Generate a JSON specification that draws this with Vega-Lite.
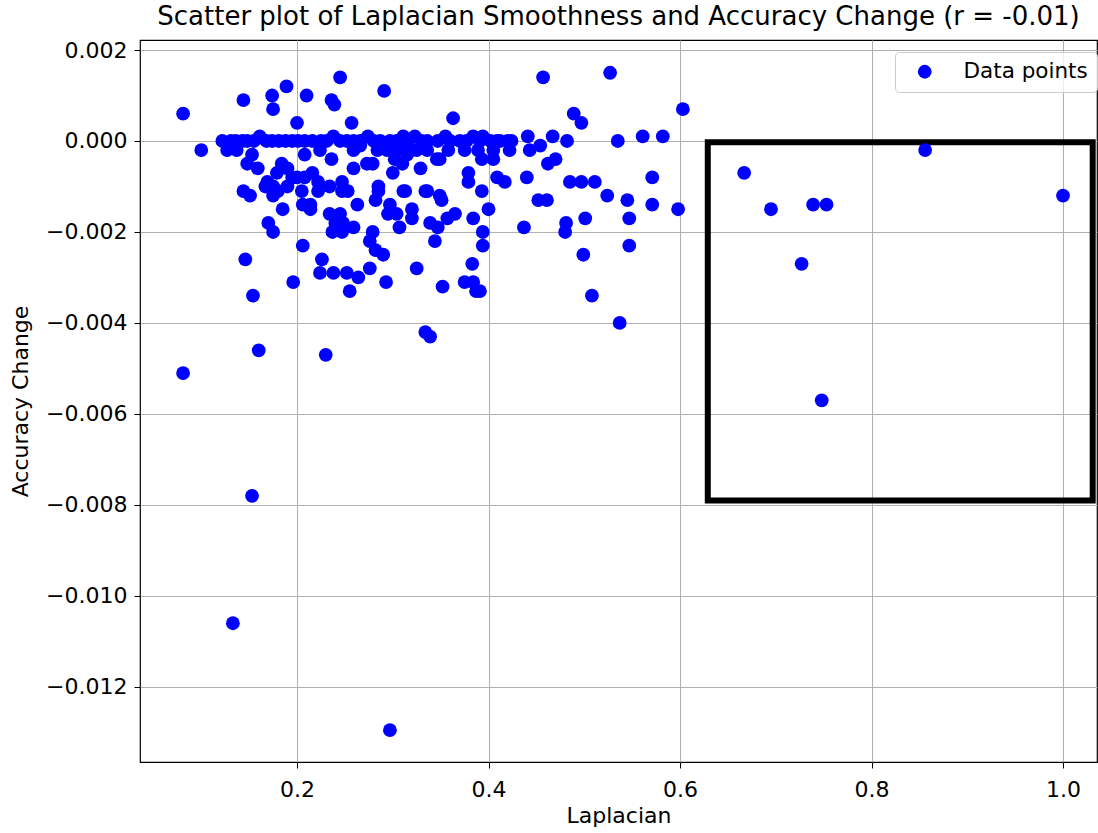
{
  "$schema": "https://vega.github.io/schema/vega-lite/v6.json",
  "autosize": "none",
  "width": 957,
  "height": 722,
  "padding": {"left": 140, "top": 40, "right": 1, "bottom": 71},
  "background": "white",
  "title": {"text": "Scatter plot of Laplacian Smoothness and Accuracy Change (r = -0.01)", "font": "DejaVu Sans", "fontSize": 26, "fontWeight": "normal", "color": "black", "offset": 9},
  "config": {
    "view": {"stroke": "black", "strokeWidth": 1.2},
    "font": "DejaVu Sans",
    "axis": {"domain": false, "gridColor": "#b0b0b0", "gridWidth": 1, "tickColor": "black", "tickSize": 6, "labelFont": "DejaVu Sans", "labelFontSize": 22, "labelColor": "black", "titleFont": "DejaVu Sans", "titleFontSize": 22, "titleFontWeight": "normal", "titleColor": "black"}
  },
  "layer": [
    {
      "data": {"values": [{"x1": 0.629, "x2": 1.031, "y1": -0.00003, "y2": -0.0079}]},
      "mark": {"type": "rect", "filled": false, "stroke": "black", "strokeWidth": 6},
      "encoding": {
        "x": {"field": "x1", "type": "quantitative", "scale": {"domain": [0.036, 1.0355], "nice": false, "zero": false}},
        "x2": {"field": "x2"},
        "y": {"field": "y1", "type": "quantitative", "scale": {"domain": [-0.01365, 0.00222], "nice": false, "zero": false}},
        "y2": {"field": "y2"}
      }
    },
    {
      "data": {"values": [
        {"laplacian": 0.081, "acc_change": 0.0006},
        {"laplacian": 0.100, "acc_change": -0.0002},
        {"laplacian": 0.081, "acc_change": -0.0051},
        {"laplacian": 0.144, "acc_change": 0.0009},
        {"laplacian": 0.146, "acc_change": -0.0026},
        {"laplacian": 0.154, "acc_change": -0.0034},
        {"laplacian": 0.160, "acc_change": -0.0046},
        {"laplacian": 0.153, "acc_change": -0.0078},
        {"laplacian": 0.133, "acc_change": -0.0106},
        {"laplacian": 0.297, "acc_change": -0.01295},
        {"laplacian": 0.230, "acc_change": -0.0047},
        {"laplacian": 0.174, "acc_change": 0.0010},
        {"laplacian": 0.175, "acc_change": 0.0007},
        {"laplacian": 0.189, "acc_change": 0.0012},
        {"laplacian": 0.210, "acc_change": 0.0010},
        {"laplacian": 0.245, "acc_change": 0.0014},
        {"laplacian": 0.236, "acc_change": 0.0009},
        {"laplacian": 0.239, "acc_change": 0.0008},
        {"laplacian": 0.291, "acc_change": 0.0011},
        {"laplacian": 0.257, "acc_change": 0.0004},
        {"laplacian": 0.200, "acc_change": 0.0004},
        {"laplacian": 0.363, "acc_change": 0.0005},
        {"laplacian": 0.457, "acc_change": 0.0014},
        {"laplacian": 0.527, "acc_change": 0.0015},
        {"laplacian": 0.489, "acc_change": 0.0006},
        {"laplacian": 0.497, "acc_change": 0.0004},
        {"laplacian": 0.603, "acc_change": 0.0007},
        {"laplacian": 0.535, "acc_change": 0.0000},
        {"laplacian": 0.561, "acc_change": 0.0001},
        {"laplacian": 0.582, "acc_change": 0.0001},
        {"laplacian": 0.667, "acc_change": -0.0007},
        {"laplacian": 0.695, "acc_change": -0.0015},
        {"laplacian": 0.739, "acc_change": -0.0014},
        {"laplacian": 0.753, "acc_change": -0.0014},
        {"laplacian": 0.727, "acc_change": -0.0027},
        {"laplacian": 0.748, "acc_change": -0.0057},
        {"laplacian": 0.856, "acc_change": -0.0002},
        {"laplacian": 1.000, "acc_change": -0.0012},
        {"laplacian": 0.122, "acc_change": 0.0},
        {"laplacian": 0.131, "acc_change": 0.0},
        {"laplacian": 0.136, "acc_change": 0.0},
        {"laplacian": 0.143, "acc_change": 0.0},
        {"laplacian": 0.148, "acc_change": 0.0},
        {"laplacian": 0.155, "acc_change": 0.0},
        {"laplacian": 0.161, "acc_change": 0.0001},
        {"laplacian": 0.168, "acc_change": 0.0},
        {"laplacian": 0.174, "acc_change": 0.0},
        {"laplacian": 0.181, "acc_change": 0.0},
        {"laplacian": 0.188, "acc_change": 0.0},
        {"laplacian": 0.195, "acc_change": 0.0},
        {"laplacian": 0.201, "acc_change": 0.0},
        {"laplacian": 0.208, "acc_change": 0.0},
        {"laplacian": 0.216, "acc_change": 0.0},
        {"laplacian": 0.225, "acc_change": 0.0},
        {"laplacian": 0.231, "acc_change": 0.0},
        {"laplacian": 0.238, "acc_change": 0.0001},
        {"laplacian": 0.245, "acc_change": 0.0},
        {"laplacian": 0.252, "acc_change": 0.0},
        {"laplacian": 0.259, "acc_change": 0.0},
        {"laplacian": 0.266, "acc_change": 0.0},
        {"laplacian": 0.274, "acc_change": 0.0001},
        {"laplacian": 0.280, "acc_change": 0.0},
        {"laplacian": 0.287, "acc_change": 0.0},
        {"laplacian": 0.297, "acc_change": 0.0},
        {"laplacian": 0.304, "acc_change": 0.0},
        {"laplacian": 0.311, "acc_change": 0.0001},
        {"laplacian": 0.316, "acc_change": 0.0},
        {"laplacian": 0.323, "acc_change": 0.0001},
        {"laplacian": 0.330, "acc_change": 0.0},
        {"laplacian": 0.336, "acc_change": 0.0},
        {"laplacian": 0.347, "acc_change": 0.0},
        {"laplacian": 0.355, "acc_change": 0.0001},
        {"laplacian": 0.360, "acc_change": 0.0},
        {"laplacian": 0.370, "acc_change": 0.0},
        {"laplacian": 0.377, "acc_change": 0.0},
        {"laplacian": 0.384, "acc_change": 0.0001},
        {"laplacian": 0.391, "acc_change": 0.0},
        {"laplacian": 0.394, "acc_change": 0.0001},
        {"laplacian": 0.402, "acc_change": 0.0},
        {"laplacian": 0.409, "acc_change": 0.0},
        {"laplacian": 0.412, "acc_change": 0.0},
        {"laplacian": 0.420, "acc_change": 0.0},
        {"laplacian": 0.424, "acc_change": 0.0},
        {"laplacian": 0.441, "acc_change": 0.0001},
        {"laplacian": 0.467, "acc_change": 0.0001},
        {"laplacian": 0.482, "acc_change": 0.0},
        {"laplacian": 0.127, "acc_change": -0.0002},
        {"laplacian": 0.137, "acc_change": -0.0002},
        {"laplacian": 0.153, "acc_change": -0.0003},
        {"laplacian": 0.208, "acc_change": -0.0003},
        {"laplacian": 0.224, "acc_change": -0.0002},
        {"laplacian": 0.259, "acc_change": -0.0002},
        {"laplacian": 0.266, "acc_change": -0.0001},
        {"laplacian": 0.284, "acc_change": -0.0002},
        {"laplacian": 0.294, "acc_change": -0.0002},
        {"laplacian": 0.304, "acc_change": -0.0002},
        {"laplacian": 0.315, "acc_change": -0.0001},
        {"laplacian": 0.325, "acc_change": -0.0002},
        {"laplacian": 0.336, "acc_change": -0.0002},
        {"laplacian": 0.358, "acc_change": -0.0002},
        {"laplacian": 0.375, "acc_change": -0.0002},
        {"laplacian": 0.389, "acc_change": -0.0002},
        {"laplacian": 0.405, "acc_change": -0.0002},
        {"laplacian": 0.422, "acc_change": -0.0002},
        {"laplacian": 0.443, "acc_change": -0.0002},
        {"laplacian": 0.454, "acc_change": -0.0001},
        {"laplacian": 0.148, "acc_change": -0.0005},
        {"laplacian": 0.159, "acc_change": -0.0006},
        {"laplacian": 0.184, "acc_change": -0.0005},
        {"laplacian": 0.179, "acc_change": -0.0007},
        {"laplacian": 0.190, "acc_change": -0.0006},
        {"laplacian": 0.216, "acc_change": -0.0007},
        {"laplacian": 0.208, "acc_change": -0.0008},
        {"laplacian": 0.200, "acc_change": -0.0008},
        {"laplacian": 0.169, "acc_change": -0.0009},
        {"laplacian": 0.195, "acc_change": -0.0008},
        {"laplacian": 0.190, "acc_change": -0.0010},
        {"laplacian": 0.175, "acc_change": -0.0010},
        {"laplacian": 0.144, "acc_change": -0.0011},
        {"laplacian": 0.167, "acc_change": -0.0010},
        {"laplacian": 0.180, "acc_change": -0.0011},
        {"laplacian": 0.205, "acc_change": -0.0011},
        {"laplacian": 0.222, "acc_change": -0.0009},
        {"laplacian": 0.222, "acc_change": -0.0011},
        {"laplacian": 0.236, "acc_change": -0.0004},
        {"laplacian": 0.259, "acc_change": -0.0006},
        {"laplacian": 0.273, "acc_change": -0.0005},
        {"laplacian": 0.279, "acc_change": -0.0005},
        {"laplacian": 0.302, "acc_change": -0.0004},
        {"laplacian": 0.315, "acc_change": -0.0003},
        {"laplacian": 0.310, "acc_change": -0.0005},
        {"laplacian": 0.300, "acc_change": -0.0007},
        {"laplacian": 0.329, "acc_change": -0.0006},
        {"laplacian": 0.346, "acc_change": -0.0004},
        {"laplacian": 0.234, "acc_change": -0.0010},
        {"laplacian": 0.247, "acc_change": -0.0009},
        {"laplacian": 0.253, "acc_change": -0.0011},
        {"laplacian": 0.285, "acc_change": -0.0010},
        {"laplacian": 0.311, "acc_change": -0.0011},
        {"laplacian": 0.336, "acc_change": -0.0011},
        {"laplacian": 0.349, "acc_change": -0.0004},
        {"laplacian": 0.393, "acc_change": -0.0004},
        {"laplacian": 0.405, "acc_change": -0.0004},
        {"laplacian": 0.462, "acc_change": -0.0005},
        {"laplacian": 0.470, "acc_change": -0.0004},
        {"laplacian": 0.379, "acc_change": -0.0007},
        {"laplacian": 0.379, "acc_change": -0.0009},
        {"laplacian": 0.409, "acc_change": -0.0008},
        {"laplacian": 0.417, "acc_change": -0.0009},
        {"laplacian": 0.440, "acc_change": -0.0008},
        {"laplacian": 0.393, "acc_change": -0.0011},
        {"laplacian": 0.349, "acc_change": -0.0012},
        {"laplacian": 0.485, "acc_change": -0.0009},
        {"laplacian": 0.497, "acc_change": -0.0009},
        {"laplacian": 0.511, "acc_change": -0.0009},
        {"laplacian": 0.571, "acc_change": -0.0008},
        {"laplacian": 0.524, "acc_change": -0.0012},
        {"laplacian": 0.545, "acc_change": -0.0013},
        {"laplacian": 0.452, "acc_change": -0.0013},
        {"laplacian": 0.461, "acc_change": -0.0013},
        {"laplacian": 0.571, "acc_change": -0.0014},
        {"laplacian": 0.598, "acc_change": -0.0015},
        {"laplacian": 0.400, "acc_change": -0.0015},
        {"laplacian": 0.437, "acc_change": -0.0019},
        {"laplacian": 0.481, "acc_change": -0.0018},
        {"laplacian": 0.480, "acc_change": -0.0020},
        {"laplacian": 0.501, "acc_change": -0.0017},
        {"laplacian": 0.547, "acc_change": -0.0017},
        {"laplacian": 0.547, "acc_change": -0.0023},
        {"laplacian": 0.499, "acc_change": -0.0025},
        {"laplacian": 0.508, "acc_change": -0.0034},
        {"laplacian": 0.537, "acc_change": -0.0040},
        {"laplacian": 0.391, "acc_change": -0.0033},
        {"laplacian": 0.394, "acc_change": -0.0020},
        {"laplacian": 0.394, "acc_change": -0.0023},
        {"laplacian": 0.151, "acc_change": -0.0012},
        {"laplacian": 0.175, "acc_change": -0.0012},
        {"laplacian": 0.185, "acc_change": -0.0015},
        {"laplacian": 0.206, "acc_change": -0.0014},
        {"laplacian": 0.214, "acc_change": -0.0015},
        {"laplacian": 0.170, "acc_change": -0.0018},
        {"laplacian": 0.175, "acc_change": -0.0020},
        {"laplacian": 0.206, "acc_change": -0.0023},
        {"laplacian": 0.196, "acc_change": -0.0031},
        {"laplacian": 0.234, "acc_change": -0.0016},
        {"laplacian": 0.245, "acc_change": -0.0016},
        {"laplacian": 0.240, "acc_change": -0.0018},
        {"laplacian": 0.248, "acc_change": -0.0018},
        {"laplacian": 0.259, "acc_change": -0.0019},
        {"laplacian": 0.237, "acc_change": -0.0020},
        {"laplacian": 0.247, "acc_change": -0.0020},
        {"laplacian": 0.263, "acc_change": -0.0014},
        {"laplacian": 0.282, "acc_change": -0.0013},
        {"laplacian": 0.297, "acc_change": -0.0014},
        {"laplacian": 0.295, "acc_change": -0.0016},
        {"laplacian": 0.304, "acc_change": -0.0016},
        {"laplacian": 0.307, "acc_change": -0.0019},
        {"laplacian": 0.320, "acc_change": -0.0015},
        {"laplacian": 0.320, "acc_change": -0.0017},
        {"laplacian": 0.351, "acc_change": -0.0013},
        {"laplacian": 0.339, "acc_change": -0.0018},
        {"laplacian": 0.347, "acc_change": -0.0019},
        {"laplacian": 0.357, "acc_change": -0.0017},
        {"laplacian": 0.365, "acc_change": -0.0016},
        {"laplacian": 0.384, "acc_change": -0.0017},
        {"laplacian": 0.344, "acc_change": -0.0022},
        {"laplacian": 0.279, "acc_change": -0.0020},
        {"laplacian": 0.276, "acc_change": -0.0022},
        {"laplacian": 0.282, "acc_change": -0.0024},
        {"laplacian": 0.290, "acc_change": -0.0025},
        {"laplacian": 0.226, "acc_change": -0.0026},
        {"laplacian": 0.224, "acc_change": -0.0029},
        {"laplacian": 0.238, "acc_change": -0.0029},
        {"laplacian": 0.252, "acc_change": -0.0029},
        {"laplacian": 0.264, "acc_change": -0.0030},
        {"laplacian": 0.276, "acc_change": -0.0028},
        {"laplacian": 0.255, "acc_change": -0.0033},
        {"laplacian": 0.293, "acc_change": -0.0031},
        {"laplacian": 0.325, "acc_change": -0.0028},
        {"laplacian": 0.352, "acc_change": -0.0032},
        {"laplacian": 0.383, "acc_change": -0.0027},
        {"laplacian": 0.375, "acc_change": -0.0031},
        {"laplacian": 0.384, "acc_change": -0.0031},
        {"laplacian": 0.387, "acc_change": -0.0033},
        {"laplacian": 0.334, "acc_change": -0.0042},
        {"laplacian": 0.339, "acc_change": -0.0043},
        {"laplacian": 0.247, "acc_change": -0.0011},
        {"laplacian": 0.285, "acc_change": -0.0011},
        {"laplacian": 0.313, "acc_change": -0.0011},
        {"laplacian": 0.334, "acc_change": -0.0011},
        {"laplacian": 0.214, "acc_change": -0.0014}
      ]},
      "mark": {"type": "point", "shape": "circle", "filled": true, "opacity": 1, "size": 190},
      "encoding": {
        "x": {"field": "laplacian", "type": "quantitative", "title": "Laplacian",
              "axis": {"values": [0.2, 0.4, 0.6, 0.8, 1.0], "format": ".1f", "labelPadding": 11, "titlePadding": 5}},
        "y": {"field": "acc_change", "type": "quantitative", "title": "Accuracy Change",
              "axis": {"values": [0.002, 0, -0.002, -0.004, -0.006, -0.008, -0.010, -0.012], "labelExpr": "replace(format(datum.value, '.3f'), '-', '−')", "labelPadding": 7, "titlePadding": 13}},
        "color": {"datum": "Data points", "type": "nominal", "scale": {"domain": ["Data points"], "range": ["blue"]},
                  "legend": {"title": null, "orient": "none", "legendX": 755, "legendY": 12, "padding": 9, "strokeColor": "#cccccc", "fillColor": "rgba(255,255,255,0.8)", "cornerRadius": 4, "labelFont": "DejaVu Sans", "labelFontSize": 21.5, "labelColor": "black", "symbolSize": 190, "symbolType": "circle", "symbolStrokeWidth": 0, "symbolOffset": 10, "labelOffset": 28, "rowPadding": 0}}
      }
    }
  ]
}
